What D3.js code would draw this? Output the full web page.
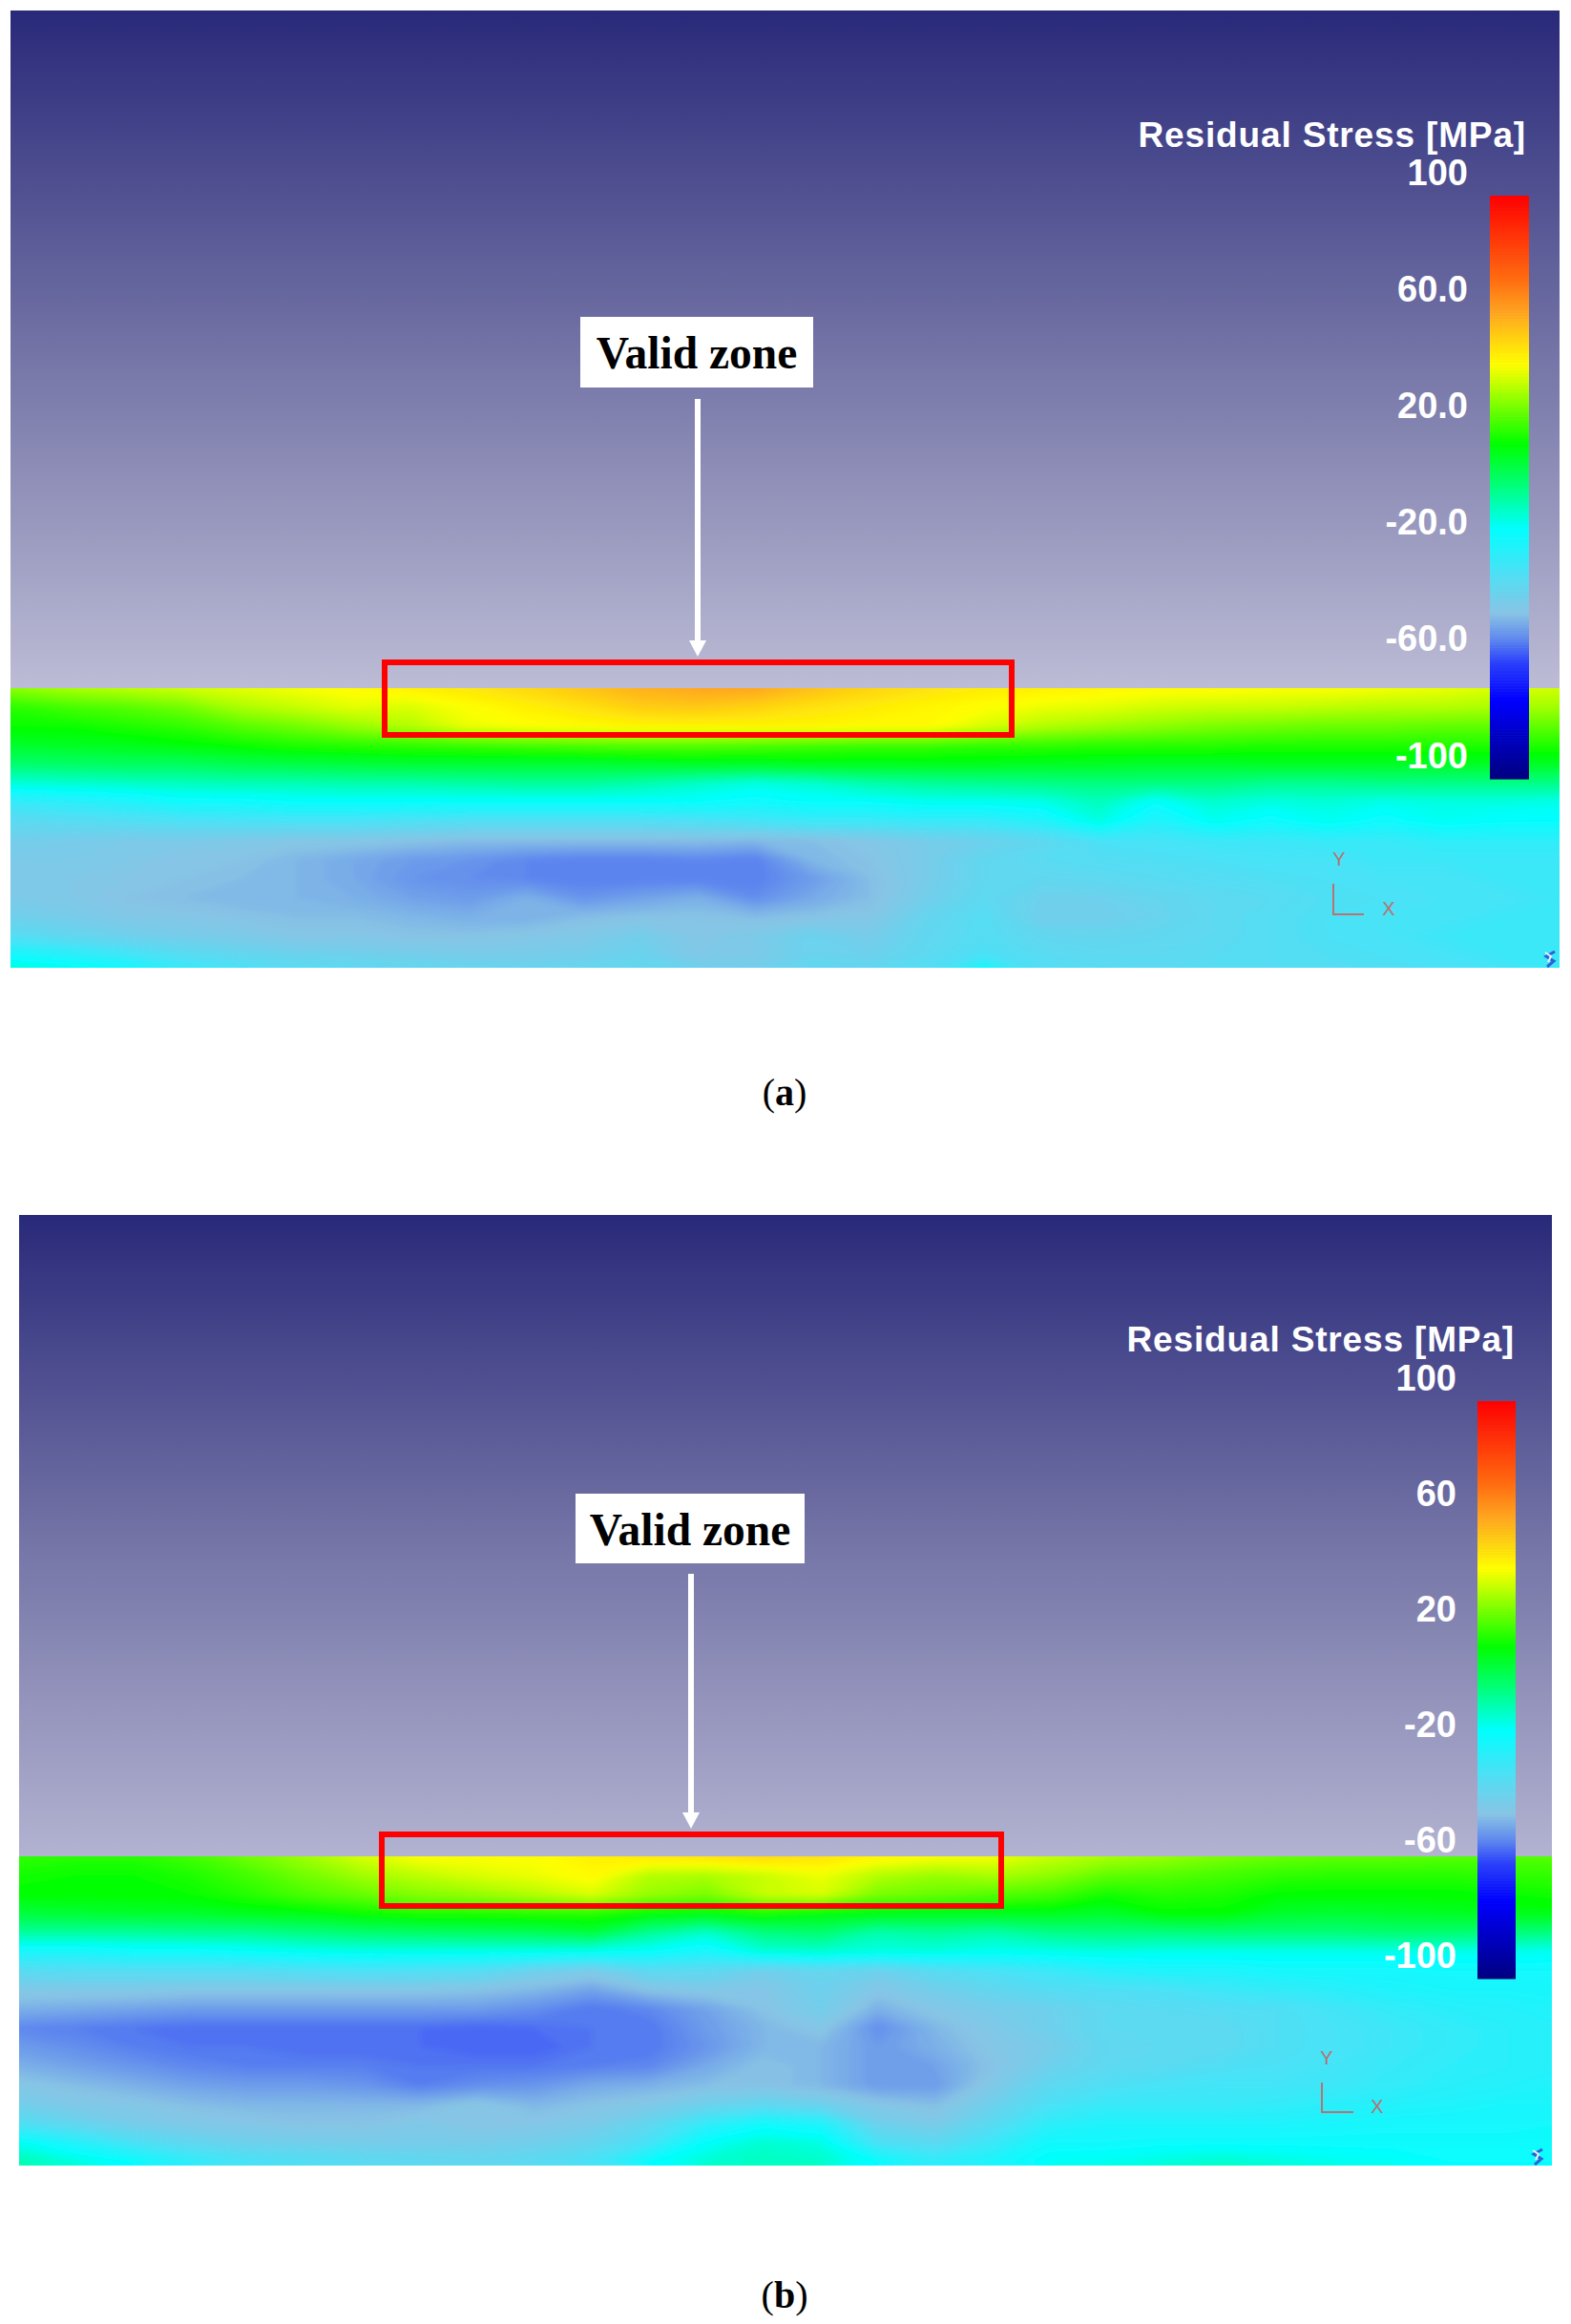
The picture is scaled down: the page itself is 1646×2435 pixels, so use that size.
<!DOCTYPE html>
<html lang="en">
<head>
    <meta charset="UTF-8">
    <title>Residual Stress</title>
    <script src="https://d3js.org/d3.v7.min.js"></script>
    <style>
        body {
            margin: 0;
            background: #fff;
        }
        svg {
            display: block;
        }
        .tickLabels text {
            font-family: "Liberation Sans", sans-serif;
            font-weight: bold;
            font-size: 38px;
            fill: #fff;
        }
    </style>
</head>
<body>
<div id="chart"></div>
<script>
    // colour legend of the stress plot [MPa]
    var stressStops = [-100, -73, -60, -52, -43, -30, -14, 0, 15, 42, 60, 72, 100];
    var stressColors = ['#00007f', '#0000ff', '#2b40fb', '#5f88ee', '#88c4e4', '#50dff5', '#00ffff', '#00ff80', '#00ff00', '#ffff00', '#ffa520', '#ff6a10', '#ff0000'];

    var tickValues = [100, 60, 20, -20, -60, -100];
    var tickLabelsA = ['100', '60.0', '20.0', '-20.0', '-60.0', '-100'];
    var tickLabelsB = ['100', '60', '20', '-20', '-60', '-100'];

    // stress: one row per depth step, 28 columns left to right
    var fieldA = [
        [30,33,35,37,39,41,43,45,47,50,54,58,60,60,55,51,48,46,45,44,43,43,42,42,41,40,38,37],
        [19,22,24,27,33,36,39,38,42,45,48,52,53,51,48,46,44,42,40,39,37,36,36,35,34,34,33,32],
        [16,16,18,20,24,27,31,34,40,42,43,44,44,44,44,43,43,38,34,32,30,28,27,26,26,25,25,25],
        [10,11,12,14,16,18,19,20,21,22,23,24,24,23,22,21,21,20,20,19,19,19,18,18,18,18,18,18],
        [2,3,4,4,6,7,8,9,9,9,9,10,11,11,12,12,12,12,11,11,10,10,11,11,11,11,11,11],
        [-10,-9,-8,-7,-6,-6,-5,-5,-4,-3,-3,-5,-8,-11,-9,-5,-3,-2,-1,0,0,0,-2,-2,-1,-1,-1,-1],
        [-25,-23,-21,-17,-17,-15,-15,-15,-15,-15,-15,-15,-15,-17,-15,-15,-13,-13,-12,-7,-15,-9,-11,-10,-12,-11,-11,-12],
        [-33,-32,-31,-30,-29,-29,-29,-30,-31,-31,-31,-31,-30,-28,-26,-26,-25,-25,-21,-11,-21,-13,-17,-13,-17,-13,-15,-15],
        [-38,-39,-40,-40,-41,-42,-42,-43,-44,-44,-44,-44,-44,-45,-44,-42,-39,-37,-34,-29,-28,-26,-26,-25,-25,-23,-23,-23],
        [-40,-40,-41,-43,-43,-45,-47,-49,-50,-52,-53,-53,-52,-53,-45,-43,-39,-34,-32,-31,-30,-29,-28,-28,-26,-26,-26,-26],
        [-41,-41,-42,-43,-44,-45,-47,-50,-51,-52,-53,-53,-53,-53,-49,-44,-39,-34,-34,-33,-32,-31,-30,-29,-28,-28,-26,-26],
        [-40,-41,-43,-44,-45,-45,-46,-48,-49,-46,-50,-48,-46,-51,-47,-44,-38,-33,-37,-37,-35,-33,-32,-30,-29,-28,-28,-26],
        [-37,-39,-41,-42,-43,-44,-44,-45,-46,-46,-44,-43,-43,-44,-43,-42,-35,-31,-38,-38,-36,-33,-31,-29,-28,-28,-26,-26],
        [-31,-34,-37,-39,-40,-42,-42,-43,-43,-42,-41,-38,-42,-40,-36,-39,-34,-31,-34,-35,-34,-33,-31,-29,-28,-26,-26,-26],
        [-17,-21,-26,-31,-34,-36,-37,-38,-39,-39,-38,-36,-41,-40,-36,-37,-33,-29,-32,-33,-33,-32,-31,-30,-29,-28,-26,-25],
        [-6,-9,-12,-21,-26,-30,-31,-32,-33,-34,-33,-33,-35,-37,-32,-32,-29,-10,-29,-31,-32,-32,-31,-31,-30,-29,-28,-25]
    ];

    var fieldB = [
        [20,19,19,22,27,32,38,42,42,42,45,47,48,50,48,44,42,41,36,33,31,28,26,25,25,24,24,24],
        [17,16,16,18,22,27,32,35,38,40,43,34,33,36,40,34,31,33,30,25,24,22,20,19,19,19,20,20],
        [15,15,15,16,19,23,26,29,31,34,38,31,28,36,38,28,26,24,22,17,19,18,15,15,15,15,16,17],
        [8,9,10,10,12,13,16,18,18,19,19,15,14,17,14,13,12,12,12,10,15,15,10,9,10,11,12,13],
        [-3,-3,-3,-2,-2,0,2,3,4,5,8,-2,-8,0,2,-5,-3,-5,-1,0,0,1,1,1,2,2,1,0],
        [-19,-19,-17,-17,-15,-13,-12,-12,-12,-12,-13,-15,-19,-10,-9,-11,-11,-13,-12,-11,-12,-12,-12,-12,-12,-12,-12,-13],
        [-32,-31,-31,-31,-31,-30,-29,-30,-31,-37,-40,-33,-33,-38,-35,-37,-32,-29,-26,-22,-20,-20,-18,-18,-18,-17,-17,-17],
        [-41,-41,-41,-42,-42,-42,-42,-42,-43,-45,-48,-43,-41,-42,-37,-42,-38,-34,-31,-30,-29,-26,-24,-22,-20,-19,-19,-18],
        [-46,-47,-48,-49,-49,-49,-49,-49,-49,-51,-54,-52,-48,-43,-38,-46,-42,-39,-37,-33,-32,-31,-30,-27,-24,-22,-21,-20],
        [-52,-53,-54,-55,-55,-55,-55,-55,-56,-55,-54,-54,-49,-45,-42,-51,-45,-41,-37,-33,-33,-33,-30,-28,-26,-24,-22,-21],
        [-49,-51,-53,-54,-54,-55,-55,-55,-56,-56,-54,-54,-50,-45,-45,-49,-46,-42,-39,-34,-33,-33,-30,-28,-26,-24,-22,-21],
        [-46,-48,-50,-52,-53,-53,-53,-54,-54,-54,-53,-52,-47,-43,-45,-49,-48,-43,-37,-33,-32,-30,-29,-27,-25,-23,-22,-21],
        [-42,-44,-46,-48,-49,-49,-50,-53,-51,-50,-47,-46,-44,-43,-45,-49,-49,-41,-33,-30,-28,-27,-27,-26,-24,-22,-21,-20],
        [-38,-41,-42,-44,-45,-45,-45,-45,-42,-45,-43,-41,-37,-34,-37,-42,-44,-37,-29,-25,-25,-25,-24,-22,-21,-20,-19,-19],
        [-30,-35,-39,-41,-42,-43,-43,-41,-43,-42,-40,-34,-24,-17,-20,-37,-40,-32,-23,-20,-20,-20,-20,-19,-18,-18,-18,-17],
        [-13,-21,-29,-34,-37,-38,-39,-39,-39,-38,-35,-28,-14,-9,-11,-29,-33,-26,-17,-17,-16,-16,-16,-16,-16,-16,-16,-16],
        [-5,-10,-15,-23,-28,-30,-32,-33,-34,-32,-28,-15,-9,-7,-8,-15,-23,-19,-13,-12,-10,-8,-10,-12,-13,-15,-15,-15]
    ];

    var w = 1646, h = 2435;

    var panels = [
        {
            id: 'a', field: fieldA, tickLabels: tickLabelsA,
            left: 11, right: 1634, top: 11, surface: 721, bottom: 1014,
            gridLeft: 11, gridRight: 1631, gridTop: 721, gridBottom: 1021,
            barLeft: 1561, barRight: 1602, barTop: 205, barBottom: 816,
            tickX: 1538, titleX: 1599, titleY: 154,
            box: [403, 694, 1060, 770],
            label: [608, 332, 244, 74], arrowX: 731, arrowTop: 418, arrowTip: 688,
            triad: [1397, 926, 958, 1429, 1403, 907, 1455, 959],
            logo: [1624, 997],
            capX: 822, capY: 1158
        },
        {
            id: 'b', field: fieldB, tickLabels: tickLabelsB,
            left: 20, right: 1626, top: 1273, surface: 1945, bottom: 2269,
            gridLeft: 20, gridRight: 1640, gridTop: 1945, gridBottom: 2265,
            barLeft: 1548, barRight: 1588, barTop: 1468, barBottom: 2073,
            tickX: 1526, titleX: 1587, titleY: 1416,
            box: [400, 1922, 1049, 1997],
            label: [603, 1565, 240, 73], arrowX: 724, arrowTop: 1649, arrowTip: 1916,
            triad: [1385, 2182, 2213, 1418, 1390, 2163, 1443, 2214],
            logo: [1611, 2252],
            capX: 822, capY: 2418
        }
    ];

    var colorScale = d3.scaleLinear()
        .domain(stressStops)
        .range(stressColors)
        .interpolate(d3.interpolateRgb);

    var svg = d3.select('#chart').append('svg')
        .attr('width', w)
        .attr('height', h);

    var defs = svg.append('defs');

    defs.append('filter').attr('id', 'soft')
        .append('feGaussianBlur').attr('stdDeviation', 3);

    panels.forEach(drawPanel);

    function drawPanel(p) {
        // sky gradient behind the part
        var grad = defs.append('linearGradient')
            .attr('id', 'sky-' + p.id)
            .attr('gradientUnits', 'userSpaceOnUse')
            .attr('x1', 0).attr('x2', 0)
            .attr('y1', p.top).attr('y2', p.surface);
        grad.append('stop').attr('offset', 0).attr('stop-color', '#29297a');
        grad.append('stop').attr('offset', 0.5).attr('stop-color', '#7373a6');
        grad.append('stop').attr('offset', 1).attr('stop-color', p.id == 'a' ? '#bcbcd6' : '#b2b2d1');

        svg.append('rect')
            .attr('x', p.left).attr('y', p.top)
            .attr('width', p.right - p.left)
            .attr('height', p.surface - p.top)
            .attr('fill', 'url(#sky-' + p.id + ')');

        drawField(p);

        // legend bar
        var barY = d3.scaleLinear().domain([-100, 100]).range([p.barBottom, p.barTop]);

        svg.append('g').selectAll('rect')
            .data(d3.range(-100, 100))
            .enter()
            .append('rect')
            .attr('x', p.barLeft)
            .attr('y', function(d){return barY(d + 1)})
            .attr('width', p.barRight - p.barLeft)
            .attr('height', function(d){return barY(d) - barY(d + 1) + 0.6})
            .attr('fill', function(d){return colorScale(d + 0.5)});

        // labels sit about 24px above the value they name, as in the picture
        var axis = d3.axisLeft(barY)
            .tickValues(tickValues)
            .tickSize(0)
            .tickPadding(0)
            .tickFormat(function(d, i){return p.tickLabels[i]});

        var axisG = svg.append('g')
            .attr('class', 'tickLabels')
            .attr('transform', 'translate(' + p.tickX + ', -24)')
            .call(axis);
        axisG.select('.domain').remove();

        svg.append('text')
            .attr('x', p.titleX)
            .attr('y', p.titleY)
            .attr('text-anchor', 'end')
            .attr('font-family', 'Liberation Sans')
            .attr('font-weight', 'bold')
            .attr('font-size', '37px')
            .attr('letter-spacing', '0.85px')
            .attr('fill', '#fff')
            .text('Residual Stress [MPa]');

        // valid zone box
        svg.append('rect')
            .attr('x', p.box[0]).attr('y', p.box[1])
            .attr('width', p.box[2] - p.box[0])
            .attr('height', p.box[3] - p.box[1])
            .attr('fill', 'none')
            .attr('stroke', '#ff0000')
            .attr('stroke-width', 6);

        // arrow
        svg.append('line')
            .attr('x1', p.arrowX).attr('x2', p.arrowX)
            .attr('y1', p.arrowTop).attr('y2', p.arrowTip - 14)
            .attr('stroke', '#fff')
            .attr('stroke-width', 6);
        svg.append('path')
            .attr('d', d3.line()([[p.arrowX - 9, p.arrowTip - 17], [p.arrowX + 9, p.arrowTip - 17], [p.arrowX, p.arrowTip]]) + 'Z')
            .attr('fill', '#fff');

        svg.append('rect')
            .attr('x', p.label[0]).attr('y', p.label[1])
            .attr('width', p.label[2]).attr('height', p.label[3])
            .attr('fill', '#fff');
        svg.append('text')
            .attr('x', p.label[0] + p.label[2] / 2)
            .attr('y', p.label[1] + 54)
            .attr('text-anchor', 'middle')
            .attr('font-family', 'Liberation Serif')
            .attr('font-weight', 'bold')
            .attr('font-size', '47.5px')
            .attr('fill', '#000')
            .text('Valid zone');

        // xy triad
        var t = p.triad;
        svg.append('path')
            .attr('d', d3.line()([[t[0], t[1]], [t[0], t[2]], [t[3], t[2]]]))
            .attr('fill', 'none')
            .attr('stroke', '#b87272')
            .attr('stroke-width', 2);
        svg.append('text')
            .attr('x', t[4]).attr('y', t[5])
            .attr('text-anchor', 'middle')
            .attr('font-family', 'Liberation Sans')
            .attr('font-size', '20px')
            .attr('fill', '#b87272')
            .text('Y');
        svg.append('text')
            .attr('x', t[6]).attr('y', t[7])
            .attr('text-anchor', 'middle')
            .attr('font-family', 'Liberation Sans')
            .attr('font-size', '20px')
            .attr('fill', '#b87272')
            .text('X');

        // small software mark in the corner
        var lx = p.logo[0], ly = p.logo[1];
        svg.append('path')
            .attr('d', d3.line()([[lx + 5, ly], [lx - 4, ly + 5], [lx + 4, ly + 10], [lx - 3, ly + 16]]))
            .attr('fill', 'none')
            .attr('stroke', '#2f62d8')
            .attr('stroke-width', 3);
        svg.append('path')
            .attr('d', d3.line()([[lx - 5, ly + 1], [lx + 1, ly + 5], [lx - 2, ly + 11]]))
            .attr('fill', 'none')
            .attr('stroke', '#e8f6ff')
            .attr('stroke-width', 2);

        // (a) (b)
        var cap = svg.append('text')
            .attr('x', p.capX).attr('y', p.capY)
            .attr('text-anchor', 'middle')
            .attr('font-family', 'Liberation Serif')
            .attr('font-size', '40px')
            .attr('fill', '#000');
        cap.append('tspan').text('(');
        cap.append('tspan').attr('font-weight', 'bold').text(p.id);
        cap.append('tspan').text(')');
    }

    function drawField(p) {
        var nRows = p.field.length, nCols = p.field[0].length;

        // d3.contours puts grid value i at i + 0.5
        var x = d3.scaleLinear().domain([0.5, nCols - 0.5]).range([p.gridLeft, p.gridRight]);
        var y = d3.scaleLinear().domain([0.5, nRows - 0.5]).range([p.gridTop, p.gridBottom]);

        var path = d3.geoPath(d3.geoTransform({
            point: function(px, py) {
                this.stream.point(x(px), y(py));
            }
        }));

        var step = 1;
        var contours = d3.contours()
            .size([nCols, nRows])
            .thresholds(d3.range(-100, 100, step))(p.field.flat());

        defs.append('clipPath').attr('id', 'clip-' + p.id)
            .append('rect')
            .attr('x', p.left).attr('y', p.surface)
            .attr('width', p.right - p.left)
            .attr('height', p.bottom - p.surface);

        svg.append('g')
            .attr('clip-path', 'url(#clip-' + p.id + ')')
            .append('g')
            .attr('filter', 'url(#soft)')
            .selectAll('path')
            .data(contours)
            .enter()
            .append('path')
            .attr('d', path)
            .attr('fill', function(d){return colorScale(d.value + step / 2)});
    }
</script>
</body>
</html>
